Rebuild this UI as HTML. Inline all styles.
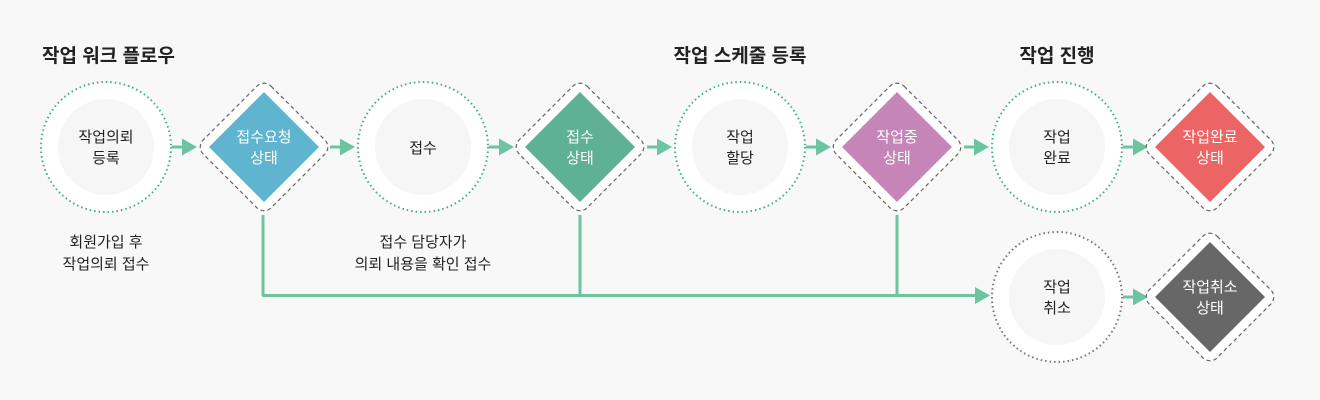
<!DOCTYPE html>
<html><head><meta charset="utf-8"><style>
html,body{margin:0;padding:0;background:#f8f8f8;}
svg{display:block;font-family:"Liberation Sans","Noto Sans CJK KR",sans-serif;}
</style></head><body>
<svg width="1320" height="400" viewBox="0 0 1320 400" xmlns="http://www.w3.org/2000/svg">
<defs>
<g id="arr"><rect x="0" y="-1.5" width="12" height="3" fill="#6cc4a1"/><polygon points="10,-8.5 25,0 10,8.5" fill="#6cc4a1"/></g>
</defs>
<rect width="1320" height="400" fill="#f8f8f8"/>
<g font-size="19" font-weight="bold" fill="#222">
<text x="42" y="62">작업 워크 플로우</text>
<text x="740" y="62" text-anchor="middle">작업 스케줄 등록</text>
<text x="1057" y="62" text-anchor="middle">작업 진행</text>
</g>
<g stroke="#6cc4a1" stroke-width="3" fill="none">
<line x1="263" y1="215" x2="263" y2="296"/>
<line x1="580" y1="215" x2="580" y2="296"/>
<line x1="897" y1="215" x2="897" y2="296"/>
<line x1="262" y1="295.5" x2="975" y2="295.5"/>
</g>
<polygon points="975,287 990,295.5 975,304" fill="#6cc4a1"/>
<use href="#arr" x="172" y="147"/>
<use href="#arr" x="330" y="147"/>
<use href="#arr" x="489" y="147"/>
<use href="#arr" x="647" y="147"/>
<use href="#arr" x="806" y="147"/>
<use href="#arr" x="964" y="147"/>
<use href="#arr" x="1123" y="147"/>
<use href="#arr" x="1123" y="297"/>
<g>
<circle cx="106" cy="147" r="65" fill="#fff" stroke="#3db17e" stroke-width="2" stroke-dasharray="1.5 3"/>
<circle cx="106" cy="147" r="48" fill="#f6f6f6"/>
<circle cx="423" cy="147" r="65" fill="#fff" stroke="#3db17e" stroke-width="2" stroke-dasharray="1.5 3"/>
<circle cx="423" cy="147" r="48" fill="#f6f6f6"/>
<circle cx="740" cy="147" r="65" fill="#fff" stroke="#3db17e" stroke-width="2" stroke-dasharray="1.5 3"/>
<circle cx="740" cy="147" r="48" fill="#f6f6f6"/>
<circle cx="1057" cy="147" r="65" fill="#fff" stroke="#3db17e" stroke-width="2" stroke-dasharray="1.5 3"/>
<circle cx="1057" cy="147" r="48" fill="#f6f6f6"/>
<circle cx="1057" cy="297" r="65" fill="#fff" stroke="#777" stroke-width="2" stroke-dasharray="1.5 3"/>
<circle cx="1057" cy="297" r="48" fill="#f6f6f6"/>
</g>
<g stroke="#666" stroke-width="1.2" stroke-dasharray="4 3" fill="#fff" stroke-linejoin="round">
<rect x="-48" y="-48" width="96" height="96" rx="10" transform="translate(264,147) rotate(45)"/>
<rect x="-48" y="-48" width="96" height="96" rx="10" transform="translate(580,147) rotate(45)"/>
<rect x="-48" y="-48" width="96" height="96" rx="10" transform="translate(897,147) rotate(45)"/>
<rect x="-48" y="-48" width="96" height="96" rx="10" transform="translate(1210,147) rotate(45)"/>
<rect x="-48" y="-48" width="96" height="96" rx="10" transform="translate(1210,297) rotate(45)"/>
</g>
<polygon points="264,92 319,147 264,202 209,147" fill="#5fb4cf"/>
<polygon points="580,92 635,147 580,202 525,147" fill="#5fb196"/>
<polygon points="897,92 952,147 897,202 842,147" fill="#c585b9"/>
<polygon points="1210,92 1265,147 1210,202 1155,147" fill="#ec6565"/>
<polygon points="1210,242 1265,297 1210,352 1155,297" fill="#676767"/>
<g font-size="15" fill="#222" text-anchor="middle">
<text x="106" y="142">작업의뢰</text><text x="106" y="163">등록</text>
<text x="423" y="153">접수</text>
<text x="740" y="142">작업</text><text x="740" y="163">할당</text>
<text x="1057" y="142">작업</text><text x="1057" y="163">완료</text>
<text x="1057" y="292">작업</text><text x="1057" y="313">취소</text>
<text x="106" y="247">회원가입 후</text><text x="106" y="269">작업의뢰 접수</text>
<text x="423" y="247">접수 담당자가</text><text x="423" y="269">의뢰 내용을 확인 접수</text>
</g>
<g font-size="15" fill="#fff" text-anchor="middle">
<text x="264" y="142">접수요청</text><text x="264" y="163">상태</text>
<text x="580" y="142">접수</text><text x="580" y="163">상태</text>
<text x="897" y="142">작업중</text><text x="897" y="163">상태</text>
<text x="1210" y="142">작업완료</text><text x="1210" y="163">상태</text>
<text x="1210" y="292">작업취소</text><text x="1210" y="313">상태</text>
</g>
</svg>
</body></html>
